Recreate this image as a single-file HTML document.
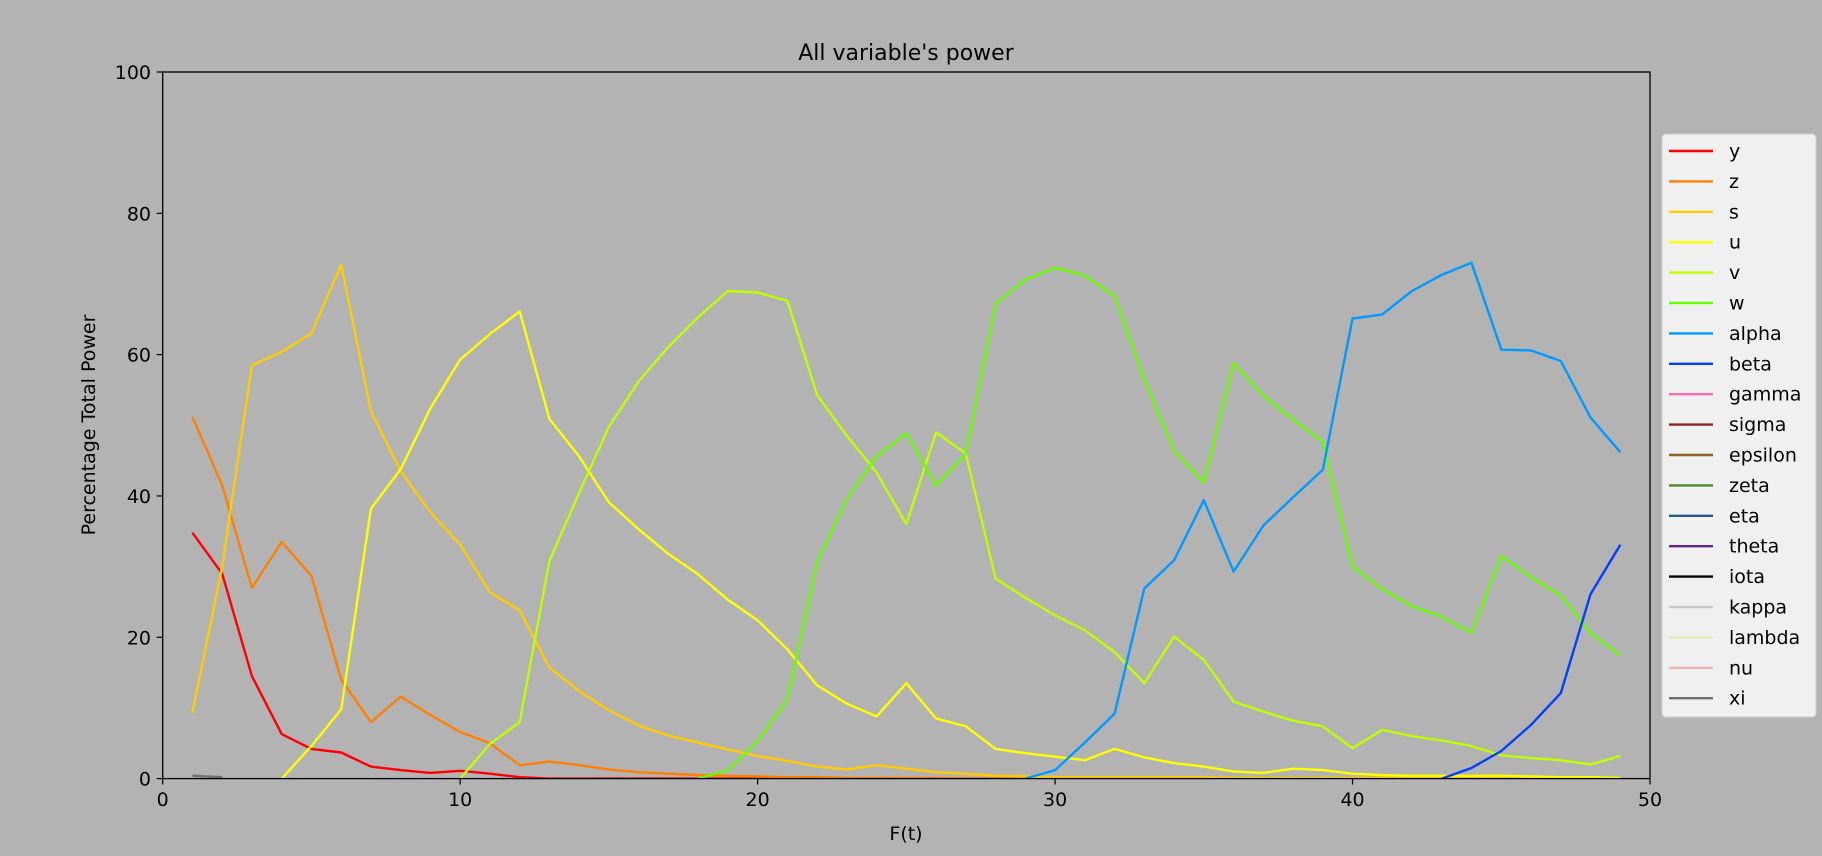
<!DOCTYPE html>
<html><head><meta charset="utf-8"><style>
html,body{margin:0;padding:0;background:#b3b3b3;}
svg{display:block;font-family:"DejaVu Sans","Liberation Sans",sans-serif;}
</style></head><body>
<svg id="chart" width="1822" height="856" xmlns="http://www.w3.org/2000/svg">
<rect width="1822" height="856" fill="#b3b3b3"/>
<text x="906" y="60" font-size="22" text-anchor="middle" fill="#000">All variable's power</text>
<text x="906" y="840" font-size="19" text-anchor="middle" fill="#000">F(t)</text>
<text x="0" y="0" font-size="19" text-anchor="middle" fill="#000" transform="translate(95,425) rotate(-90)">Percentage Total Power</text>
<g id="ticks"></g>
<g id="series" clip-path="url(#clip)"></g>
<clipPath id="clip"><rect x="162.7" y="72" width="1487.3" height="707"/></clipPath>
<rect x="162.7" y="72" width="1487.3" height="706.6" fill="none" stroke="#000" stroke-width="1.3"/>
<g id="legend"></g>
</svg>
<script>
const xTicks=[0,10,20,30,40,50];
const yTicks=[0,20,40,60,80,100];
const names=["y","z","s","u","v","w","alpha","beta","gamma","sigma","epsilon","zeta","eta","theta","iota","kappa","lambda","nu","xi"];
const colors=["#ff0000","#ff7f00","#ffcc00","#ffff00","#bfff00","#66ff00","#0099ff","#0040ff","#ff69b4","#8b2323","#8b6428","#4a8a2a","#245a8a","#6a1f8a","#000000","#c8c8c8","#e6ebb0","#eeb4b4","#707070"];
const startY=1, valsY=[34.8,29,14.5,6.3,4.2,3.7,1.7,1.2,0.8,1.1,0.7,0.2,0,0,0,0,0,0,0,0,0,0,0,0,0,0,0,0,0,0,0,0,0,0,0,0,0,0,0,0,0,0,0,0,0,0,0,0,0];
const startZ=1, valsZ=[51.2,41.5,27,33.5,28.7,14,8,11.6,9,6.6,5,1.9,2.4,1.9,1.3,0.9,0.7,0.5,0.4,0.3,0.2,0.2,0.1,0.1,0.1,0.1,0,0,0,0,0,0,0,0,0,0,0,0,0,0,0,0,0,0,0,0,0,0,0];
const startS=1, valsS=[9.3,30,58.5,60.4,63,72.7,52,43.5,37.7,33.1,26.4,23.8,15.7,12.4,9.7,7.5,6.1,5.1,4.1,3.2,2.5,1.7,1.3,1.9,1.4,0.9,0.7,0.4,0.3,0.2,0.2,0.2,0.2,0.2,0.2,0.1,0.1,0.1,0.1,0.1,0.1,0.1,0.1,0.1,0.1,0.1,0.1,0.1,0.1];
const startU=4, valsU=[0,4.6,9.8,38.2,43.8,52.4,59.3,62.9,66.1,50.9,45.6,39.1,35.3,31.8,28.9,25.3,22.4,18.3,13.2,10.6,8.8,13.5,8.5,7.4,4.2,3.6,3.1,2.6,4.2,3,2.2,1.7,1,0.8,1.4,1.2,0.7,0.5,0.4,0.4,0.4,0.4,0.3,0.2,0.2,0.1];
const startV=10, valsV=[0,4.9,8,30.8,40.4,49.8,56.2,61.1,65.3,69,68.8,67.6,54.3,48.5,43.3,36,49,46,28.3,25.6,23.1,21,17.9,13.5,20.1,16.8,10.9,9.5,8.2,7.4,4.3,6.9,6,5.4,4.6,3.3,2.9,2.6,2,3.2];
const startW=18, valsW=[0,1.2,5.3,11.2,30.6,39.6,45.6,48.9,41.5,46,67.2,70.6,72.3,71.2,68.3,56.5,46.4,41.9,58.8,54.2,50.8,47.7,30,26.8,24.4,22.9,20.6,31.5,28.5,25.9,20.6,17.4];
const startAlpha=29, valsAlpha=[0,1.2,5.1,9.2,26.9,30.9,39.4,29.3,35.8,39.8,43.7,65.1,65.7,69,71.3,73,60.7,60.6,59.1,51.1,46.2];
const startBeta=43, valsBeta=[0,1.5,3.9,7.6,12.1,26.1,33.1];
const startXi=1, valsXi=[0.4,0.2];
const NS="http://www.w3.org/2000/svg";
const sx=v=>162.7+v*(1487.3/50), sy=v=>778.6-v*7.066;
const svg=document.getElementById('chart');
const tk=document.getElementById('ticks');
function mk(tag,attrs,parent){const e=document.createElementNS(NS,tag);for(const k in attrs)e.setAttribute(k,attrs[k]);parent.appendChild(e);return e;}
xTicks.forEach(t=>{
  const l=mk('line',{x1:sx(t),x2:sx(t),y1:778.6,y2:784.6,stroke:'#000','stroke-width':1.2},tk);
  
  
  const tx=mk('text',{x:sx(t),y:806,'font-size':19,'text-anchor':'middle',fill:'#000'},tk);tx.textContent=t;
  
  
});
yTicks.forEach(t=>{
  const l=mk('line',{x1:156.7,x2:162.7,y1:sy(t),y2:sy(t),stroke:'#000','stroke-width':1.2},tk);
  
  
  const tx=mk('text',{x:151,y:sy(t)+7,'font-size':19,'text-anchor':'end',fill:'#000'},tk);tx.textContent=t;
  
  
});
const sg=document.getElementById('series');
function draw(start,vals,idx){
  const pts=vals.map((v,i)=>sx(start+i).toFixed(1)+','+sy(v).toFixed(1)).join(' ');
  const p=mk('polyline',{points:pts,fill:'none',stroke:colors[idx],'stroke-width':2.4,'stroke-linejoin':'round'},sg);
  
  
}
draw(startXi,valsXi,18);
draw(startY,valsY,0);draw(startZ,valsZ,1);draw(startS,valsS,2);draw(startU,valsU,3);
draw(startV,valsV,4);draw(startW,valsW,5);draw(startAlpha,valsAlpha,6);draw(startBeta,valsBeta,7);
const lg=document.getElementById('legend');
const box=mk('rect',{x:1662,y:134,width:154,height:583,rx:4,fill:'#f0f0f0',stroke:'#d0d0d0','stroke-width':1},lg);


names.forEach((n,i)=>{
  const y=151+i*30.4;
  const g=mk('g',{},lg);
  
  
  mk('line',{x1:1669,x2:1713,y1:y,y2:y,stroke:colors[i],'stroke-width':2.4},g);
  const t=mk('text',{x:1729,y:y+6.5,'font-size':19,fill:'#000'},g);t.textContent=n;
});
</script>
</body></html>
